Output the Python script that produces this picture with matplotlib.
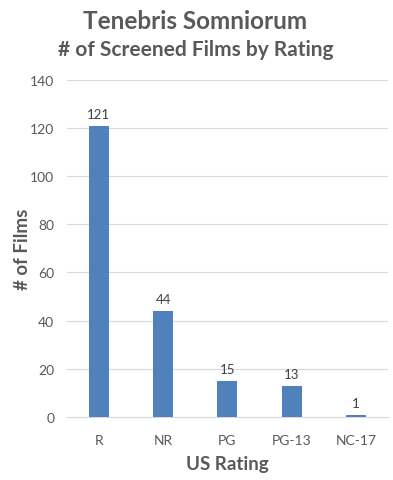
import matplotlib
matplotlib.use("Agg")
import matplotlib.pyplot as plt

categories = ["R", "NR", "PG", "PG-13", "NC-17"]
counts = [121, 44, 15, 13, 1]
yticks = [0, 20, 40, 60, 80, 100, 120, 140]

plt.rcParams['font.family'] = ['Lato', 'DejaVu Sans']
gray = "#595959"

fig = plt.figure(figsize=(3.93, 4.81), dpi=100)
ax = fig.add_axes([0.170, 0.131, 0.817, 0.701])
x = range(len(categories))
bars = ax.bar(x, counts, width=0.31, color="#4F81BD", zorder=3)
for xi, v in zip(x, counts):
    ax.text(xi, v + 2.5, str(v), ha="center", va="bottom", fontsize=9.5, color="#404040")

ax.set_xlim(-0.5, len(categories) - 0.5)
ax.set_ylim(0, 140)
ax.set_yticks(yticks)
ax.set_xticks(list(x))
ax.set_xticklabels(categories)
ax.tick_params(axis="both", length=0, labelsize=10, colors=gray)
ax.tick_params(axis="y", pad=9)
ax.tick_params(axis="x", pad=12)
ax.yaxis.grid(True, color="#D9D9D9", linewidth=0.8, zorder=0)
for s in ["top", "right", "left"]:
    ax.spines[s].set_visible(False)
ax.spines["bottom"].set_color("#D9D9D9")
ax.spines["bottom"].set_linewidth(0.8)

ax.set_xlabel("US Rating", fontsize=13.5, fontweight="bold", color=gray, labelpad=7)
fig.text(0.057, 0.481, "# of Films", rotation=90, ha="center", va="center",
         fontsize=13.5, fontweight="bold", color=gray)

fig.text(0.497, 0.955, "Tenebris Somniorum", ha="center", va="center",
         fontsize=17.5, fontweight="bold", color=gray)
fig.text(0.497, 0.897, "# of Screened Films by Rating", ha="center", va="center",
         fontsize=15, fontweight="bold", color=gray)

fig.savefig("out.png", dpi=100)
